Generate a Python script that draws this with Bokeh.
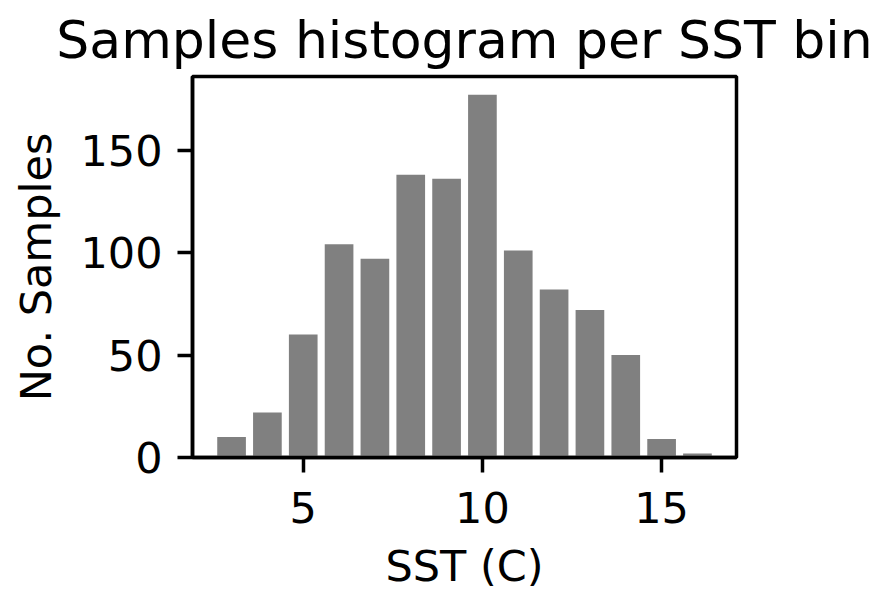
from bokeh.plotting import figure
from bokeh.models import Range1d, FixedTicker
from bokeh.embed import file_html
from bokeh.resources import INLINE

sst_bins = [3, 4, 5, 6, 7, 8, 9, 10, 11, 12, 13, 14, 15, 16]
n_samples = [10, 22, 60, 104, 97, 138, 136, 177, 101, 82, 72, 50, 9, 2]
x_ticks = [5, 10, 15]
y_ticks = [0, 50, 100, 150]

FONT = "DejaVu Sans"

p = figure(width=881, height=593, output_backend="svg", toolbar_location=None,
           x_range=Range1d(1.91, 17.09), y_range=Range1d(0, 185.9),
           title="Samples histogram per SST bin",
           min_border_left=192, min_border_right=145,
           min_border_top=76, min_border_bottom=136)

p.vbar(x=sst_bins, top=n_samples, width=0.8, fill_color="#808080", line_color=None)

p.title.text_font = FONT
p.title.text_font_size = "52px"
p.title.text_font_style = "normal"
p.title.align = "center"
p.title.text_color = "black"
p.title.standoff = 14

p.xgrid.visible = False
p.ygrid.visible = False
p.outline_line_color = "black"
p.outline_line_width = 3.5
p.background_fill_color = "white"
p.border_fill_color = "white"

p.xaxis.ticker = FixedTicker(ticks=x_ticks)
p.yaxis.ticker = FixedTicker(ticks=y_ticks)
p.xaxis.axis_label = "SST (C)"
p.yaxis.axis_label = "No. Samples"

for ax in (p.xaxis[0], p.yaxis[0]):
    ax.axis_line_width = 3.5
    ax.axis_line_color = "black"
    ax.major_tick_line_width = 3.5
    ax.major_tick_line_color = "black"
    ax.major_tick_out = 15
    ax.major_tick_in = 0
    ax.minor_tick_line_color = None
    ax.major_label_text_font = FONT
    ax.major_label_text_font_size = "43px"
    ax.major_label_text_color = "black"
    ax.axis_label_text_font = FONT
    ax.axis_label_text_font_size = "43px"
    ax.axis_label_text_font_style = "normal"
    ax.axis_label_text_color = "black"

p.xaxis.major_label_standoff = 19
p.xaxis.axis_label_standoff = 15
p.yaxis.major_label_standoff = 15
p.yaxis.axis_label_standoff = 16

open("out.html", "w").write(file_html(p, INLINE))
